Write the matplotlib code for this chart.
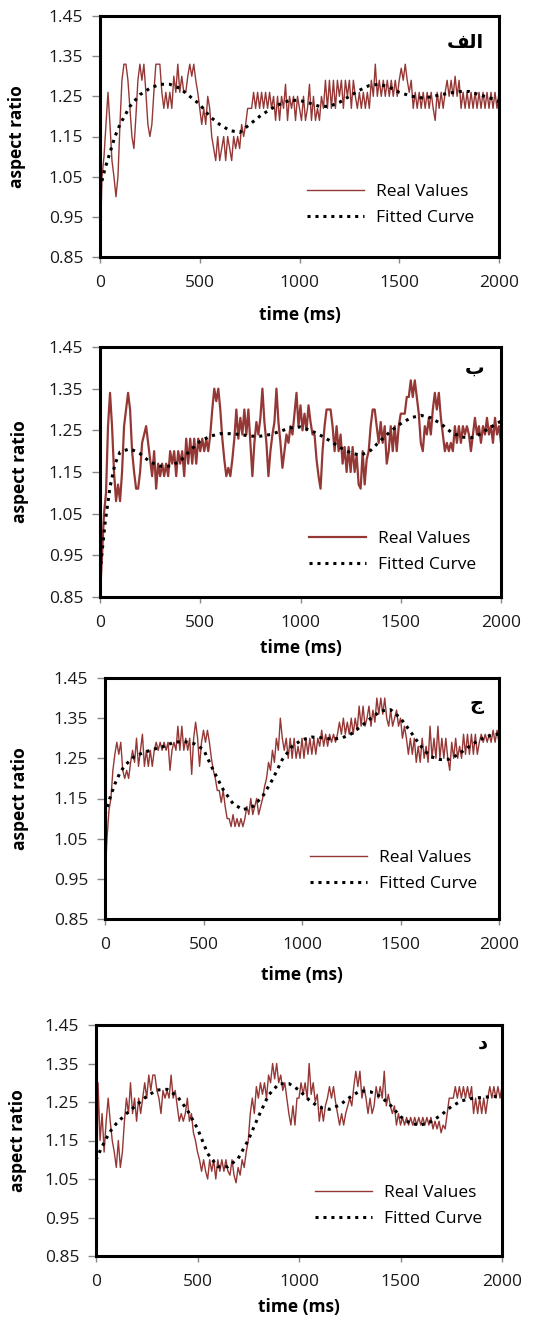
import numpy as np
import matplotlib.pyplot as plt

plt.rcParams['font.family'] = ['Open Sans', 'DejaVu Sans']

# time axis (ms): real values every 10 ms, fitted curve read at these points
time_ms = np.arange(0, 2001, 10)
fit_time = [0, 25, 50, 75, 100] + list(range(150, 2001, 50))

# panel tags (Arabic letters, presentation forms so they join without a shaper)
panel_tags = ['\uFED2\uFEDF\uFE8D', '\uFE8F', '\uFE9D', '\uFEA9']

real_a = [
    0.85, 1.05, 1.10, 1.18, 1.26, 1.18, 1.09, 1.05, 1.00, 1.05,
    1.18, 1.29, 1.33, 1.33, 1.29, 1.22, 1.15, 1.12, 1.20, 1.29,
    1.33, 1.29, 1.33, 1.26, 1.18, 1.15, 1.18, 1.26, 1.33, 1.33,
    1.33, 1.26, 1.22, 1.26, 1.22, 1.26, 1.22, 1.30, 1.26, 1.33,
    1.26, 1.30, 1.26, 1.26, 1.30, 1.33, 1.30, 1.33, 1.29, 1.26,
    1.22, 1.18, 1.22, 1.18, 1.25, 1.22, 1.15, 1.12, 1.09, 1.15,
    1.09, 1.12, 1.15, 1.09, 1.15, 1.12, 1.09, 1.15, 1.12, 1.15,
    1.12, 1.18, 1.15, 1.18, 1.22, 1.22, 1.22, 1.26, 1.22, 1.26,
    1.22, 1.26, 1.22, 1.26, 1.22, 1.26, 1.22, 1.25, 1.19, 1.25,
    1.19, 1.25, 1.22, 1.28, 1.19, 1.25, 1.22, 1.25, 1.19, 1.25,
    1.22, 1.19, 1.25, 1.19, 1.22, 1.28, 1.19, 1.25, 1.19, 1.22,
    1.19, 1.25, 1.22, 1.29, 1.22, 1.29, 1.22, 1.29, 1.22, 1.29,
    1.25, 1.29, 1.22, 1.29, 1.25, 1.29, 1.22, 1.29, 1.25, 1.22,
    1.26, 1.22, 1.26, 1.22, 1.26, 1.22, 1.29, 1.25, 1.33, 1.25,
    1.29, 1.25, 1.29, 1.25, 1.29, 1.25, 1.29, 1.25, 1.29, 1.25,
    1.29, 1.32, 1.29, 1.33, 1.29, 1.26, 1.29, 1.22, 1.26, 1.22,
    1.26, 1.22, 1.26, 1.22, 1.26, 1.22, 1.26, 1.22, 1.19, 1.26,
    1.22, 1.26, 1.22, 1.26, 1.29, 1.25, 1.29, 1.25, 1.30, 1.25,
    1.29, 1.22, 1.26, 1.22, 1.26, 1.22, 1.26, 1.22, 1.26, 1.22,
    1.26, 1.22, 1.26, 1.22, 1.26, 1.22, 1.26, 1.22, 1.26, 1.22,
    1.26,
]
fit_a = [
    1.02, 1.07, 1.11, 1.15, 1.18, 1.225, 1.254, 1.27, 1.28, 1.28,
    1.27, 1.25, 1.23, 1.20, 1.18, 1.165, 1.16, 1.18, 1.20, 1.217,
    1.23, 1.24, 1.24, 1.233, 1.225, 1.225, 1.235, 1.25, 1.265, 1.277,
    1.28, 1.273, 1.26, 1.252, 1.246, 1.248, 1.253, 1.258, 1.262, 1.262,
    1.254, 1.247, 1.237,
]

real_b = [
    0.85, 0.95, 1.05, 1.10, 1.26, 1.34, 1.26, 1.15, 1.08, 1.12,
    1.08, 1.15, 1.26, 1.30, 1.34, 1.30, 1.20, 1.15, 1.11, 1.11,
    1.15, 1.22, 1.24, 1.26, 1.22, 1.18, 1.14, 1.20, 1.11, 1.17,
    1.14, 1.17, 1.14, 1.17, 1.14, 1.20, 1.17, 1.20, 1.14, 1.20,
    1.17, 1.20, 1.14, 1.23, 1.17, 1.23, 1.17, 1.23, 1.17, 1.23,
    1.20, 1.23, 1.20, 1.23, 1.20, 1.24, 1.30, 1.35, 1.32, 1.35,
    1.30, 1.23, 1.18, 1.14, 1.16, 1.14, 1.18, 1.23, 1.30, 1.23,
    1.28, 1.24, 1.30, 1.24, 1.30, 1.22, 1.14, 1.22, 1.27, 1.24,
    1.28, 1.35, 1.27, 1.22, 1.14, 1.20, 1.24, 1.27, 1.35, 1.27,
    1.22, 1.16, 1.20, 1.24, 1.22, 1.26, 1.24, 1.29, 1.34, 1.26,
    1.31, 1.25, 1.29, 1.25, 1.31, 1.27, 1.24, 1.24, 1.18, 1.14,
    1.11, 1.20, 1.26, 1.30, 1.30, 1.30, 1.26, 1.20, 1.26, 1.20,
    1.24, 1.17, 1.21, 1.15, 1.21, 1.15, 1.21, 1.15, 1.19, 1.12,
    1.11, 1.20, 1.12, 1.18, 1.20, 1.26, 1.30, 1.30, 1.26, 1.22,
    1.27, 1.22, 1.26, 1.17, 1.20, 1.26, 1.20, 1.26, 1.20, 1.26,
    1.29, 1.29, 1.29, 1.33, 1.33, 1.37, 1.33, 1.37, 1.33, 1.29,
    1.22, 1.20, 1.26, 1.24, 1.28, 1.24, 1.30, 1.34, 1.30, 1.34,
    1.28, 1.24, 1.20, 1.22, 1.20, 1.22, 1.20, 1.26, 1.22, 1.26,
    1.22, 1.26, 1.24, 1.26, 1.24, 1.20, 1.24, 1.28, 1.24, 1.26,
    1.22, 1.26, 1.24, 1.28, 1.24, 1.26, 1.22, 1.28, 1.24, 1.26,
    1.22,
]
fit_b = [
    0.91, 1.026, 1.114, 1.17, 1.198, 1.206, 1.194, 1.174, 1.164, 1.164,
    1.176, 1.202, 1.224, 1.236, 1.242, 1.242, 1.24, 1.236, 1.236, 1.24,
    1.248, 1.256, 1.258, 1.25, 1.238, 1.224, 1.208, 1.196, 1.19, 1.202,
    1.226, 1.248, 1.266, 1.28, 1.286, 1.28, 1.266, 1.246, 1.234, 1.232,
    1.242, 1.258, 1.272,
]

real_c = [
    0.95, 1.05, 1.12, 1.15, 1.22, 1.26, 1.29, 1.26, 1.29, 1.22,
    1.20, 1.22, 1.20, 1.24, 1.27, 1.24, 1.30, 1.23, 1.27, 1.31,
    1.23, 1.27, 1.23, 1.27, 1.23, 1.27, 1.29, 1.27, 1.29, 1.27,
    1.29, 1.27, 1.29, 1.22, 1.27, 1.29, 1.27, 1.33, 1.27, 1.33,
    1.27, 1.30, 1.27, 1.30, 1.21, 1.30, 1.34, 1.30, 1.23, 1.29,
    1.32, 1.29, 1.32, 1.29, 1.25, 1.22, 1.20, 1.17, 1.17, 1.14,
    1.17, 1.13, 1.10, 1.10, 1.08, 1.11, 1.08, 1.10, 1.08, 1.10,
    1.08, 1.10, 1.13, 1.11, 1.15, 1.11, 1.13, 1.15, 1.11, 1.13,
    1.15, 1.18, 1.20, 1.24, 1.22, 1.27, 1.24, 1.30, 1.27, 1.35,
    1.30, 1.27, 1.30, 1.25, 1.30, 1.25, 1.30, 1.25, 1.28, 1.25,
    1.30, 1.25, 1.30, 1.26, 1.30, 1.26, 1.30, 1.26, 1.30, 1.28,
    1.32, 1.28, 1.31, 1.28, 1.31, 1.29, 1.31, 1.29, 1.31, 1.34,
    1.31, 1.35, 1.31, 1.34, 1.31, 1.35, 1.31, 1.35, 1.32, 1.38,
    1.33, 1.38, 1.33, 1.35, 1.38, 1.33, 1.37, 1.34, 1.40, 1.36,
    1.40, 1.36, 1.40, 1.35, 1.33, 1.37, 1.33, 1.35, 1.37, 1.33,
    1.35, 1.30, 1.33, 1.30, 1.26, 1.30, 1.26, 1.30, 1.24, 1.28,
    1.24, 1.30, 1.25, 1.28, 1.24, 1.33, 1.25, 1.30, 1.25, 1.33,
    1.25, 1.30, 1.25, 1.30, 1.25, 1.22, 1.29, 1.25, 1.30, 1.25,
    1.28, 1.25, 1.31, 1.26, 1.31, 1.26, 1.31, 1.26, 1.31, 1.26,
    1.29, 1.31, 1.29, 1.31, 1.29, 1.31, 1.29, 1.32, 1.29, 1.32,
    1.29,
]
fit_c = [
    1.11, 1.151, 1.186, 1.213, 1.232, 1.255, 1.265, 1.273, 1.28, 1.29,
    1.292, 1.287, 1.272, 1.22, 1.172, 1.137, 1.122, 1.13, 1.155, 1.197,
    1.247, 1.28, 1.296, 1.303, 1.301, 1.298, 1.30, 1.311, 1.33, 1.35,
    1.368, 1.371, 1.35, 1.317, 1.282, 1.255, 1.247, 1.248, 1.262, 1.28,
    1.296, 1.306, 1.311,
]

real_d = [
    0.85, 1.30, 1.15, 1.22, 1.12, 1.20, 1.26, 1.20, 1.15, 1.12,
    1.08, 1.15, 1.08, 1.12, 1.20, 1.26, 1.22, 1.30, 1.22, 1.26,
    1.20, 1.26, 1.22, 1.26, 1.30, 1.26, 1.32, 1.28, 1.32, 1.32,
    1.28, 1.26, 1.22, 1.28, 1.26, 1.28, 1.26, 1.32, 1.26, 1.28,
    1.24, 1.20, 1.22, 1.20, 1.22, 1.26, 1.20, 1.22, 1.17, 1.15,
    1.12, 1.10, 1.07, 1.10, 1.07, 1.05, 1.10, 1.07, 1.10, 1.05,
    1.10, 1.07, 1.10, 1.07, 1.10, 1.07, 1.06, 1.10, 1.06, 1.04,
    1.08, 1.06, 1.10, 1.08, 1.12, 1.15, 1.22, 1.26, 1.22, 1.29,
    1.26, 1.30, 1.27, 1.30, 1.26, 1.32, 1.30, 1.35, 1.31, 1.35,
    1.30, 1.32, 1.28, 1.30, 1.26, 1.22, 1.19, 1.24, 1.19, 1.26,
    1.26, 1.30, 1.27, 1.30, 1.26, 1.35, 1.27, 1.30, 1.25, 1.27,
    1.20, 1.24, 1.20, 1.24, 1.26, 1.29, 1.26, 1.29, 1.25, 1.22,
    1.19, 1.22, 1.19, 1.22, 1.24, 1.26, 1.24, 1.29, 1.33, 1.29,
    1.33, 1.26, 1.29, 1.26, 1.22, 1.26, 1.22, 1.24, 1.29, 1.26,
    1.29, 1.26, 1.33, 1.24, 1.27, 1.24, 1.22, 1.24, 1.19, 1.22,
    1.19, 1.21, 1.19, 1.21, 1.19, 1.21, 1.19, 1.21, 1.19, 1.21,
    1.19, 1.21, 1.19, 1.21, 1.19, 1.21, 1.18, 1.20, 1.18, 1.20,
    1.17, 1.19, 1.18, 1.22, 1.26, 1.26, 1.26, 1.29, 1.26, 1.29,
    1.26, 1.29, 1.26, 1.29, 1.26, 1.29, 1.22, 1.26, 1.22, 1.26,
    1.22, 1.26, 1.22, 1.26, 1.29, 1.26, 1.29, 1.26, 1.29, 1.26,
    1.29,
]
fit_d = [
    1.099, 1.129, 1.155, 1.177, 1.194, 1.22, 1.242, 1.265, 1.281, 1.283,
    1.265, 1.229, 1.181, 1.116, 1.082, 1.082, 1.103, 1.151, 1.212, 1.268,
    1.297, 1.298, 1.281, 1.255, 1.236, 1.231, 1.242, 1.262, 1.279, 1.277,
    1.265, 1.242, 1.212, 1.194, 1.19, 1.199, 1.216, 1.238, 1.253, 1.259,
    1.262, 1.264, 1.265,
]

real_series = [real_a, real_b, real_c, real_d]
fit_series = [fit_a, fit_b, fit_c, fit_d]
y_ticks = [0.85, 0.95, 1.05, 1.15, 1.25, 1.35, 1.45]
x_ticks = [0, 500, 1000, 1500, 2000]

# layout in pixels: (left, top, right, bottom) of each plot area
W, H = 547, 1318
boxes = [(100, 16, 499, 257), (100, 347, 501, 597), (105, 678, 499, 919), (96, 1025, 502, 1256)]
legend_xy = [(307, 184), (309, 531), (310, 850), (315, 1185)]
tag_xy = [(484, 42), (484, 368), (484, 705), (488, 1043)]
real_lw = [1.0, 1.6, 1.0, 1.0]
ylabel_x = [17, 20, 20, 18]
xlabel_y = [315, 648, 975, 1307]

line_color = '#953735'

fig = plt.figure(figsize=(W / 100, H / 100), dpi=100)

for i in range(4):
    l, t, r, b = boxes[i]
    ax = fig.add_axes([l / W, 1 - b / H, (r - l) / W, (b - t) / H])
    ax.plot(time_ms, real_series[i], color=line_color, lw=real_lw[i],
            label='Real Values')
    ax.plot(fit_time, fit_series[i], color='black', lw=2.2,
            linestyle=(0, (1, 1.6)), label='Fitted Curve')

    ax.set_xlim(0, 2000)
    ax.set_ylim(0.85, 1.45)
    ax.set_xticks(x_ticks)
    ax.set_yticks(y_ticks)
    ax.set_yticklabels([f'{v:.2f}' for v in y_ticks])
    ax.tick_params(axis='y', direction='out', length=6, width=1, color='#888888',
                   pad=6, labelsize=12.5, labelcolor='#1a1a1a')
    ax.tick_params(axis='x', direction='out', length=4, width=1, color='#888888',
                   pad=9, labelsize=12.5, labelcolor='#1a1a1a')
    for s in ax.spines.values():
        s.set_linewidth(2.2)
        s.set_color('black')

    ax.set_xlabel('time (ms)', fontsize=12.5, fontweight='bold', va='center')
    ax.set_ylabel('aspect ratio', fontsize=12.5, fontweight='bold', va='center')
    ax.xaxis.set_label_coords(0.5, (b - xlabel_y[i]) / (b - t))
    ax.yaxis.set_label_coords((ylabel_x[i] - l) / (r - l), 0.5)

    lx, ly = legend_xy[i]
    ax.legend(loc='upper left', bbox_to_anchor=((lx - l) / (r - l), (b - ly) / (b - t)),
              frameon=False, borderpad=0, borderaxespad=0, fontsize=12.5,
              handlelength=3.3, handletextpad=0.7, labelspacing=0.55)

    tx, ty = tag_xy[i]
    ax.text((tx - l) / (r - l), (b - ty) / (b - t), panel_tags[i],
            transform=ax.transAxes, ha='right', va='center', fontsize=14,
            fontweight='bold', family=['DejaVu Sans'])

fig.savefig('out.png', dpi=100)
